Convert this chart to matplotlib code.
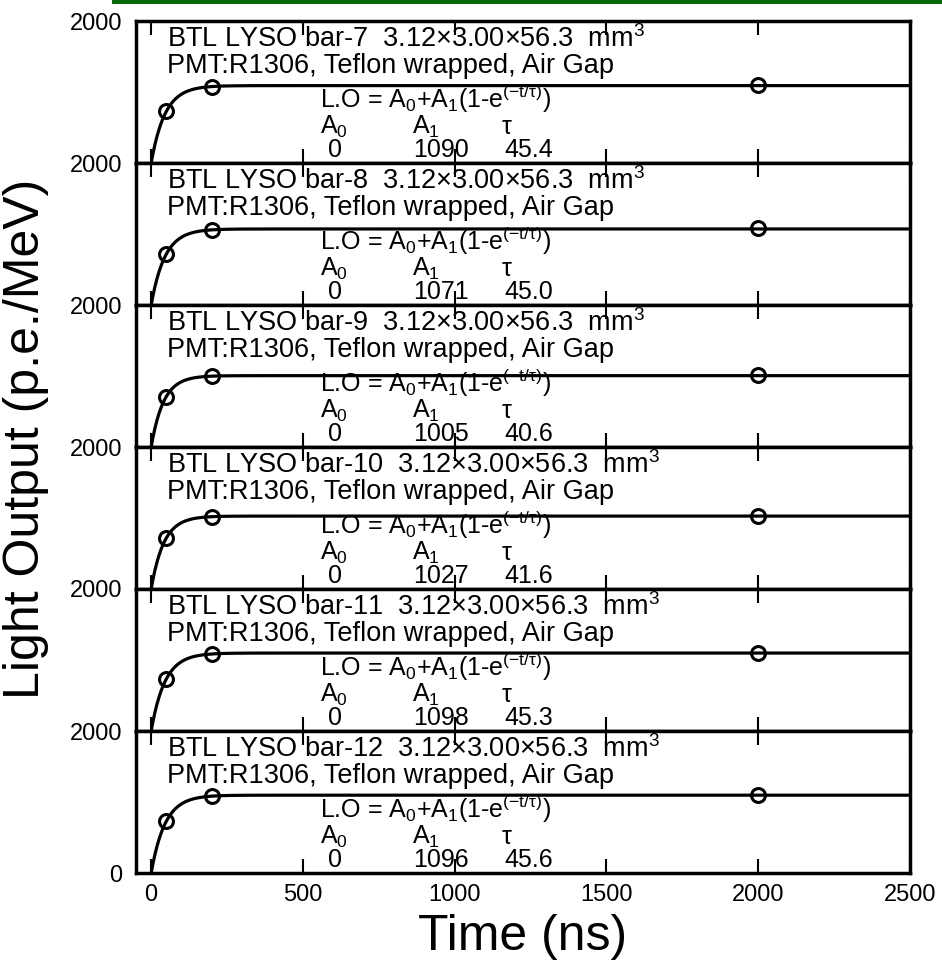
import matplotlib
matplotlib.use("Agg")
import matplotlib.pyplot as plt
import numpy as np
from matplotlib.patches import Rectangle

plt.rcParams["font.family"] = ["Liberation Sans", "DejaVu Sans"]
plt.rcParams["mathtext.fontset"] = "custom"
plt.rcParams["mathtext.rm"] = "Liberation Sans"
plt.rcParams["mathtext.it"] = "Liberation Sans:italic"
plt.rcParams["mathtext.default"] = "regular"

# crystal bars and exponential fit results, LO = A0 + A1 (1 - exp(-t/tau))
BARS = ["bar-7", "bar-8", "bar-9", "bar-10", "bar-11", "bar-12"]
FIT_A0 = [0, 0, 0, 0, 0, 0]
FIT_A1 = [1090, 1071, 1005, 1027, 1098, 1096]
FIT_TAU = [45.4, 45.0, 40.6, 41.6, 45.3, 45.6]

# measured light output (p.e./MeV) at each integration gate
GATES_NS = [50, 200, 2000]
LO_50NS = [730, 718, 708, 715, 730, 728]
LO_200NS = [1076, 1060, 995, 1016, 1084, 1082]
LO_2000NS = [1096, 1080, 1012, 1030, 1100, 1100]

XTICKS = [0, 500, 1000, 1500, 2000, 2500]

fig = plt.figure(figsize=(9.42, 9.65), dpi=100)

# green rule across the top of the page
fig.add_artist(Rectangle((112 / 942, 1 - 4 / 965), 830 / 942, 4 / 965,
                         transform=fig.transFigure, color="#0a6a0a", lw=0))

left, right = 136 / 942, 910 / 942
top, bottom = 1 - 21 / 965, 1 - 873 / 965
n = len(BARS)
h = (top - bottom) / n

t = np.linspace(0, 2500, 1200)
axes = []
for i, bar in enumerate(BARS):
    ax = fig.add_axes([left, top - (i + 1) * h, right - left, h])
    axes.append(ax)
    fit = FIT_A0[i] + FIT_A1[i] * (1 - np.exp(-t / FIT_TAU[i]))
    ax.plot(t, fit, color="black", lw=2.3, zorder=2)
    ax.plot(GATES_NS, [LO_50NS[i], LO_200NS[i], LO_2000NS[i]], "o",
            mfc="none", mec="black", ms=10, mew=2.2, zorder=3)

    ax.set_xlim(-50, 2500)
    ax.set_ylim(0, 2000)
    ax.set_xticks(XTICKS)
    ax.tick_params(axis="x", direction="in", top=True, bottom=True,
                   length=10, width=1.5, labelsize=17, pad=8)
    if i < n - 1:
        ax.tick_params(axis="x", labelbottom=False)
        ax.set_yticks([2000])
    else:
        ax.set_yticks([0, 2000])
    ax.tick_params(axis="y", length=0, labelsize=17, pad=10)
    for s in ax.spines.values():
        s.set_linewidth(2.5)

    fs, fs2 = 19.5, 18
    ax.text(53, 1634, f"BTL LYSO {bar}  3.12×3.00×56.3  mm$^3$", fontsize=fs, va="baseline")
    ax.text(53, 1268, "PMT:R1306, Teflon wrapped, Air Gap", fontsize=fs, va="baseline")
    ax.text(556, 775, r"L.O = A$_0$+A$_1$(1-e$^{(-t/\tau)}$)", fontsize=fs2, va="baseline")
    ax.text(556, 409, r"A$_0$", fontsize=fs2, va="baseline")
    ax.text(858, 409, r"A$_1$", fontsize=fs2, va="baseline")
    ax.text(1156, 409, "τ", fontsize=fs2, va="baseline")
    ax.text(583, 85, f"{FIT_A0[i]}", fontsize=fs2, va="baseline")
    ax.text(864, 85, f"{FIT_A1[i]}", fontsize=fs2, va="baseline")
    ax.text(1162, 85, f"{FIT_TAU[i]:.1f}", fontsize=fs2, va="baseline")

axes[-1].set_xlabel("Time (ns)", fontsize=36, labelpad=6)
fig.text(0.028, 0.545, "Light Output (p.e./MeV)", fontsize=36,
         rotation=90, ha="center", va="center")

fig.savefig("out.png", dpi=100)
